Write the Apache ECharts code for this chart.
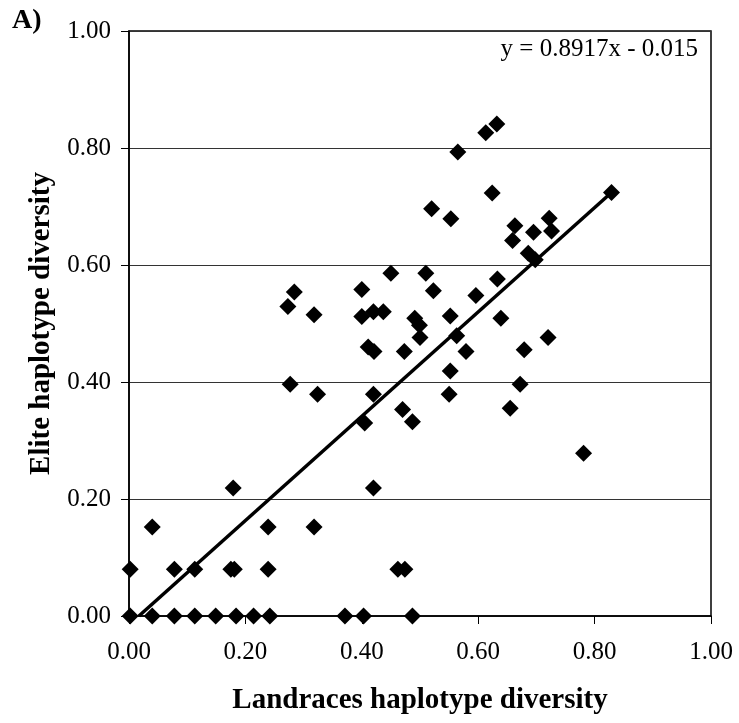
<!DOCTYPE html>
<html>
<head>
<meta charset="utf-8">
<script src="https://cdn.jsdelivr.net/npm/echarts@6/dist/echarts.min.js"></script>
<style>html,body{margin:0;padding:0;background:#fff}#c{width:739px;height:723px}</style>
</head>
<body>
<div id="c"></div>
<script>
// Landraces haplotype diversity (x) and Elite haplotype diversity (y)
const landraces = [
  0.632,0.613,0.565,0.624,0.829,0.520,0.553,0.663,0.722,0.695,0.726,0.659,0.686,0.698,
  0.510,0.450,0.523,0.633,0.596,0.284,0.400,0.273,0.318,0.420,0.437,0.400,
  0.491,0.499,0.500,0.552,0.639,0.563,0.579,0.679,0.720,0.473,0.411,0.421,
  0.552,0.550,0.672,0.655,0.470,0.487,0.405,0.277,0.324,0.420,0.781,
  0.179,0.420,0.040,0.239,0.318,
  0.002,0.078,0.113,0.175,0.181,0.239,0.462,0.474,
  0.002,0.040,0.078,0.113,0.149,0.184,0.214,0.242,0.371,0.403,0.487
];
const elite = [
  0.841,0.826,0.793,0.723,0.724,0.696,0.679,0.667,0.680,0.656,0.658,0.642,0.620,0.609,
  0.586,0.586,0.556,0.576,0.548,0.554,0.558,0.529,0.515,0.520,0.520,0.512,
  0.509,0.497,0.476,0.513,0.509,0.479,0.452,0.455,0.476,0.452,0.460,0.452,
  0.419,0.379,0.396,0.355,0.353,0.332,0.330,0.396,0.379,0.379,0.278,
  0.219,0.219,0.152,0.152,0.152,
  0.080,0.080,0.080,0.080,0.080,0.080,0.080,0.080,
  0,0,0,0,0,0,0,0,0,0,0
];
// trend line end points
const trendX = [0.017, 0.829];
const trendY = [0, 0.724];
const xTicks = ['0.00','0.20','0.40','0.60','0.80','1.00'];
const equation = 'y = 0.8917x - 0.015';

const pts = landraces.map((x,i)=>[x, elite[i]]);
const trend = trendX.map((x,i)=>[x, trendY[i]]);
const serif = '"Liberation Serif","Times New Roman",serif';

const chart = echarts.init(document.getElementById('c'), null, {renderer:'canvas'});
chart.setOption({
  animation:false,
  backgroundColor:'#fff',
  grid:{left:129, right:28, top:31, bottom:107, show:true, borderColor:'#000', borderWidth:1.5},
  xAxis:{
    type:'value', min:0, max:1, interval:0.2,
    name:'Landraces haplotype diversity', nameLocation:'middle', nameGap:70,
    nameTextStyle:{fontFamily:serif, fontWeight:'bold', fontSize:29, color:'#000'},
    axisLine:{lineStyle:{color:'#000', width:1.5}},
    axisTick:{show:true, length:8, inside:false, lineStyle:{color:'#000'}},
    axisLabel:{margin:24, fontFamily:serif, fontSize:25, color:'#000', formatter:(v)=>xTicks[Math.round(v/0.2)]},
    splitLine:{show:false}
  },
  yAxis:{
    type:'value', min:0, max:1, interval:0.2,
    name:'Elite haplotype diversity', nameLocation:'middle', nameGap:70,
    nameTextStyle:{fontFamily:serif, fontWeight:'bold', fontSize:29, color:'#000'},
    axisLine:{show:true, lineStyle:{color:'#000', width:1.5}},
    axisTick:{show:true, length:8, lineStyle:{color:'#000'}},
    axisLabel:{margin:18, fontFamily:serif, fontSize:25, color:'#000', formatter:(v)=>v.toFixed(2)},
    splitLine:{show:true, lineStyle:{color:'#333', width:1}}
  },
  series:[
    {type:'line', data:trend, showSymbol:false, symbol:'none', lineStyle:{color:'#000', width:3.5}, z:3, silent:true},
    {type:'scatter', data:pts, symbol:'diamond', symbolSize:[17,17], itemStyle:{color:'#000', opacity:1}, z:4}
  ],
  graphic:[
    {type:'text', left:12, top:7, style:{text:'A)', font:'bold 28px '+serif, fill:'#000'}},
    {type:'text', right:41, top:37, style:{text:equation, font:'25px '+serif, fill:'#000'}}
  ]
});
</script>
</body>
</html>
